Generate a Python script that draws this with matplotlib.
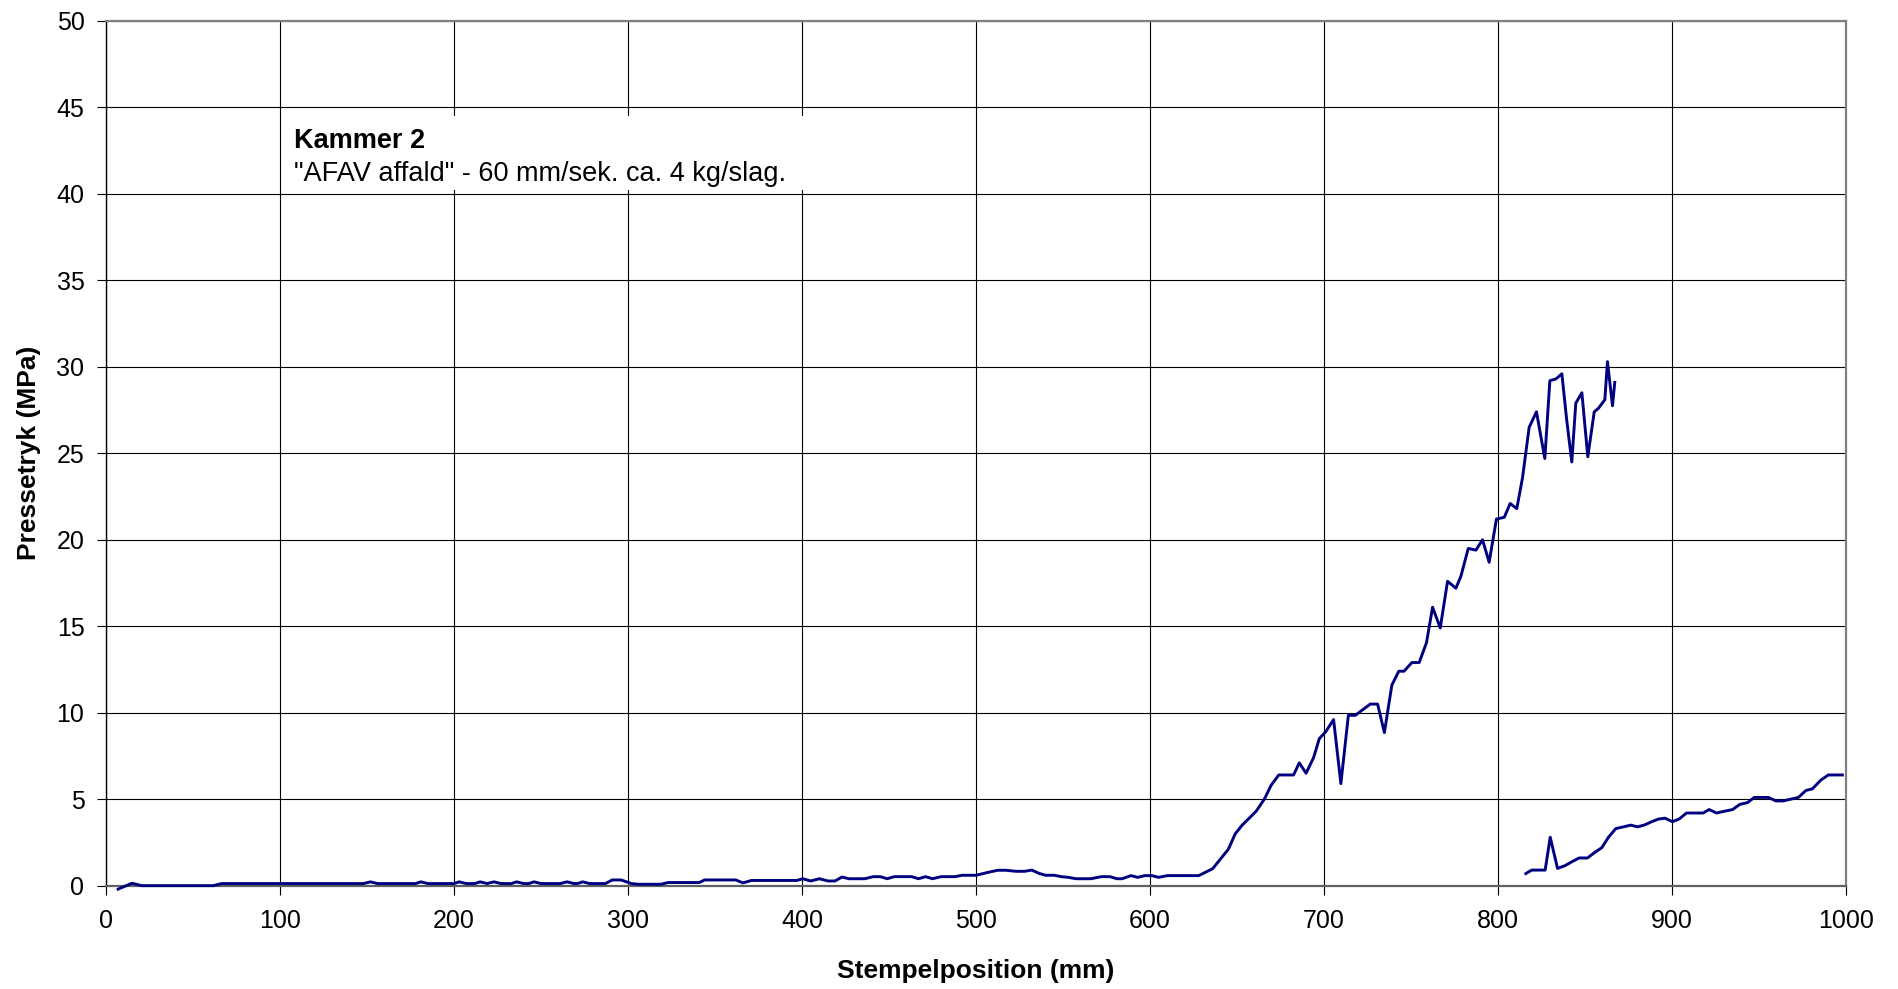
import numpy as np
import matplotlib
matplotlib.use("Agg")
import matplotlib.pyplot as plt
from matplotlib.patches import Rectangle

plt.rcParams['font.family'] = ['Liberation Sans', 'DejaVu Sans']

# forste slag: stempelposition (mm) og presstryk (MPa)
pos1 = [7, 15, 20.5, 61.6, 66.4, 148, 152, 156, 178, 181, 185, 200, 203, 207,
        212, 215, 219, 223, 227, 233, 236, 240, 243, 246, 250, 261, 265, 269,
        271, 274, 278, 287, 291, 296, 302, 306, 319, 323, 341, 344, 362, 366,
        371, 397, 400.5, 405, 410, 415, 419, 423, 427, 436, 441, 445, 449, 453,
        463, 467, 471, 475, 480, 488, 492, 500, 507, 512.5, 517, 523, 528, 532,
        536.5, 540, 545, 549, 553, 557.5, 566, 572, 577, 581, 584, 589, 593,
        597, 601, 605, 610, 628, 636, 645, 649, 653, 657, 661, 665.7, 669.6,
        674, 682.5, 685.8, 689.7, 694, 697.3, 701, 705.5, 709.7, 714, 718,
        722.6, 726.6, 730.8, 734.7, 739, 743, 746, 750.5, 754.7, 758.9, 762.4,
        766.8, 771, 775.8, 778.7, 782.9, 787.3, 791.1, 794.9, 799.1, 803.6,
        807, 810.8, 814.1, 817.9, 822.1, 826.9, 829.8, 833.3, 836.7, 839.4,
        842.4, 844.7, 848.2, 851.6, 855.3, 857.7, 861.4, 862.9, 865.8, 867.1]
tryk1 = [-0.2, 0.14, 0, 0, 0.12, 0.12, 0.22, 0.12, 0.12, 0.22, 0.12, 0.12, 0.22, 0.12,
         0.12, 0.22, 0.12, 0.22, 0.12, 0.12, 0.22, 0.12, 0.12, 0.22, 0.12, 0.12, 0.22, 0.12,
         0.12, 0.22, 0.12, 0.12, 0.33, 0.33, 0.12, 0.08, 0.08, 0.18, 0.18, 0.33, 0.33, 0.16,
         0.3, 0.3, 0.4, 0.27, 0.4, 0.27, 0.27, 0.5, 0.4, 0.4, 0.52, 0.52, 0.4, 0.52,
         0.52, 0.4, 0.52, 0.4, 0.52, 0.52, 0.6, 0.6, 0.77, 0.89, 0.89, 0.83, 0.83, 0.9,
         0.7, 0.6, 0.6, 0.52, 0.48, 0.4, 0.4, 0.52, 0.52, 0.4, 0.4, 0.58, 0.48,
         0.58, 0.58, 0.48, 0.58, 0.58, 0.98, 2.1, 3.0, 3.5, 3.9, 4.3, 5.0, 5.8,
         6.4, 6.4, 7.1, 6.5, 7.4, 8.5, 8.9, 9.6, 5.9, 9.85, 9.85,
         10.2, 10.5, 10.5, 8.85, 11.6, 12.4, 12.4, 12.9, 12.9, 14.05, 16.1,
         14.9, 17.6, 17.2, 17.9, 19.5, 19.4, 20.0, 18.7, 21.2, 21.3,
         22.1, 21.8, 23.6, 26.5, 27.4, 24.7, 29.2, 29.3, 29.6, 27.0,
         24.5, 27.9, 28.5, 24.8, 27.4, 27.6, 28.1, 30.3, 27.75, 29.1]

# andet slag
pos2 = [816, 819.4, 827.1, 830, 834.2, 838.4, 842.8, 846.6, 851.4, 855.3, 859.7,
        863.5, 867.7, 872.1, 876.3, 880.1, 884, 888.4, 892.2, 896, 900.2, 904.1,
        908.3, 913.3, 917.9, 921.3, 925.6, 930, 934.8, 939, 943.4, 947.2, 951.1,
        955.4, 959.7, 963.9, 968.2, 972.6, 976.9, 980.7, 985.5, 989.8, 994.1, 997.9]
tryk2 = [0.7, 0.9, 0.9, 2.8, 1.0, 1.15, 1.4, 1.6, 1.6, 1.9, 2.2,
         2.8, 3.3, 3.4, 3.5, 3.4, 3.5, 3.7, 3.85, 3.9, 3.7, 3.85,
         4.2, 4.2, 4.2, 4.4, 4.2, 4.3, 4.4, 4.7, 4.8, 5.1, 5.1,
         5.1, 4.9, 4.9, 5.0, 5.1, 5.5, 5.6, 6.1, 6.4, 6.4, 6.4]

xticks = np.arange(0, 1001, 100)
yticks = np.arange(0, 51, 5)

fig = plt.figure(figsize=(18.99, 9.89), dpi=100)
ax = fig.add_axes([0.0558, 0.1045, 0.9163, 0.8743])

# kurverne klippes ikke, saa startpunktet under 0 ses
ax.plot(pos1, tryk1, color='#000080', lw=2.1, zorder=4, clip_on=False)
ax.plot(pos2, tryk2, color='#000080', lw=2.1, zorder=4, clip_on=False)

ax.set_xlim(0, 1000)
ax.set_ylim(0, 50)
ax.set_xticks(xticks)
ax.set_yticks(yticks)
ax.grid(True, color='black', lw=0.8)
ax.set_axisbelow(True)

ax.tick_params(axis='both', direction='out', length=6.5, width=0.8,
               labelsize=18, color='black')
ax.tick_params(axis='x', pad=10)
ax.tick_params(axis='y', pad=9)

for side in ['top', 'right']:
    ax.spines[side].set_color('#808080')
    ax.spines[side].set_linewidth(1.6)
ax.spines['left'].set_color('black')
ax.spines['left'].set_linewidth(1.0)
ax.spines['bottom'].set_color('#606060')
ax.spines['bottom'].set_linewidth(1.6)

ax.set_xlabel('Stempelposition (mm)', fontsize=19, fontweight='bold', labelpad=19)
ax.set_ylabel('Pressetryk (MPa)', fontsize=19, fontweight='bold', labelpad=11)

# tekstboks med hvid baggrund over gitteret
ax.add_patch(Rectangle((101, 40.2), 301, 4.3, facecolor='white', edgecolor='none', zorder=2))
ax.text(108, 42.68, 'Kammer 2', fontsize=19.5, fontweight='bold', va='baseline', zorder=3)
ax.text(108, 40.72, '"AFAV affald" - 60 mm/sek. ca. 4 kg/slag.', fontsize=19.5,
        va='baseline', zorder=3)

fig.savefig('out.png', dpi=100)
